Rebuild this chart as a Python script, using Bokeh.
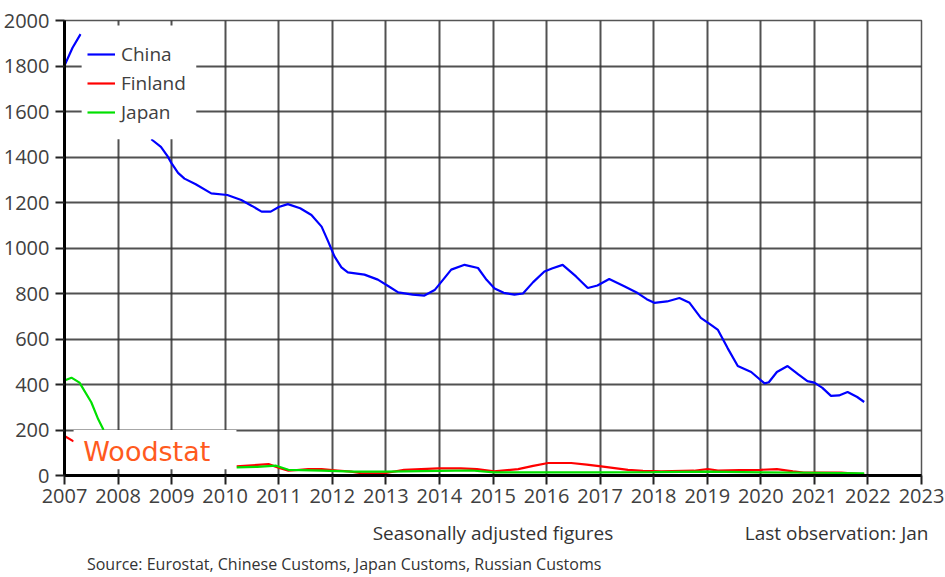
import numpy as np
from bokeh.plotting import figure
from bokeh.models import (BoxAnnotation, Label, Legend, LegendItem, FixedTicker, Range1d,
                          LinearAxis)
from bokeh.embed import file_html
from bokeh.resources import INLINE

nan = float("nan")

# ---- data (decimal years, values) ----
china_x = [2007.00, 2007.15, 2007.30, nan,
           2008.62, 2008.80, 2008.92, 2009.00, 2009.12, 2009.24, 2009.45, 2009.74, 2010.04, 2010.30,
           2010.50, 2010.68, 2010.85, 2011.00, 2011.17, 2011.40, 2011.61, 2011.80, 2011.92,
           2012.04, 2012.17, 2012.29, 2012.60, 2012.85, 2013.05, 2013.23, 2013.50, 2013.72,
           2013.91, 2014.10, 2014.22, 2014.47, 2014.72, 2014.88, 2015.03, 2015.20, 2015.40,
           2015.56, 2015.75, 2015.96, 2016.10, 2016.30, 2016.55, 2016.77, 2016.95, 2017.17,
           2017.45, 2017.70, 2017.87, 2018.01, 2018.25, 2018.48, 2018.67, 2018.88, 2019.05,
           2019.20, 2019.38, 2019.57, 2019.82, 2020.07, 2020.15, 2020.30, 2020.50, 2020.70,
           2020.87, 2021.00, 2021.15, 2021.31, 2021.46, 2021.62, 2021.80, 2021.93]
china_y = [1802, 1880, 1940, nan,
           1478, 1445, 1405, 1372, 1330, 1305, 1280, 1240, 1233, 1211,
           1185, 1160, 1160, 1180, 1193, 1175, 1145, 1094, 1030,
           963, 915, 893, 883, 861, 832, 805, 795, 791,
           815, 870, 905, 926, 912, 860, 822, 803, 795,
           800, 850, 897, 910, 926, 875, 824, 835, 864,
           832, 802, 775, 759, 765, 780, 759, 693, 665,
           640, 560, 481, 455, 405, 410, 455, 481, 445,
           415, 408, 385, 350, 352, 367, 345, 323]

finland_x = [2007.00, 2007.17, nan,
             2010.21, 2010.50, 2010.81, 2011.01, 2011.18, 2011.55, 2011.80, 2012.10, 2012.35,
             2012.54, 2012.97, 2013.34, 2013.98, 2014.40, 2014.70, 2015.02, 2015.47, 2015.75,
             2016.03, 2016.46, 2016.75, 2017.02, 2017.52, 2017.80, 2018.14, 2018.75, 2019.01,
             2019.20, 2019.60, 2020.00, 2020.30, 2020.60, 2020.80, 2021.50, 2021.93]
finland_y = [174, 150, nan,
             40, 45, 50, 33, 21, 28, 28, 22, 17,
             10, 10, 25, 31, 31, 28, 18, 28, 42,
             55, 55, 48, 40, 25, 20, 18, 21, 28,
             22, 24, 25, 28, 18, 13, 13, 5]

japan_x = [2007.00, 2007.13, 2007.28, 2007.50, 2007.63, 2007.73, nan,
           2010.21, 2010.60, 2010.95, 2011.18, 2011.80, 2012.40, 2013.00, 2014.00, 2014.60,
           2015.02, 2016.00, 2017.00, 2018.00, 2019.00, 2020.00, 2021.00, 2021.93]
japan_y = [418, 430, 408, 322, 247, 200, nan,
           36, 38, 43, 25, 21, 17, 17, 20, 22,
           14, 14, 14, 15, 17, 14, 12, 10]

x_ticks = list(range(2007, 2024))
y_ticks = list(range(0, 2001, 200))

series_names = ["China", "Finland", "Japan"]
series_colors = ["#0000FF", "#FF0000", "#00E000"]

note_texts = {492: "Seasonally adjusted figures", 836: "Last observation: Jan"}
source_text = {343: "Source: Eurostat, Chinese Customs, Japan Customs, Russian Customs"}

FONT = "Open Sans"

p = figure(width=945, height=577, output_backend="svg", toolbar_location=None,
           x_range=Range1d(2007, 2023), y_range=Range1d(0, 2000),
           min_border_left=63, min_border_right=24, min_border_top=20, min_border_bottom=101)
p.background_fill_color = "white"
p.border_fill_color = "white"
p.outline_line_color = "#555555"
p.outline_line_width = 1.5

for ax, ticks in ((p.xaxis, x_ticks), (p.yaxis, y_ticks)):
    ax.ticker = FixedTicker(ticks=ticks)
    ax.axis_line_color = "black"
    ax.axis_line_width = 3
    ax.major_tick_line_color = "#222222"
    ax.major_tick_line_width = 2
    ax.major_tick_out = 9
    ax.major_tick_in = 0
    ax.minor_tick_line_color = None
    ax.major_label_text_font = FONT
    ax.major_label_text_font_size = "20px"
    ax.major_label_text_color = "#404040"
p.yaxis.major_label_standoff = 6
p.xaxis.major_label_standoff = 4
p.xaxis.major_label_text_line_height = 1.0

p.xgrid.ticker = FixedTicker(ticks=x_ticks)
p.ygrid.ticker = FixedTicker(ticks=y_ticks)
p.grid.grid_line_color = "#333333"
p.grid.grid_line_width = 2
p.grid.grid_line_alpha = 0.85

r_china = p.line(china_x, china_y, line_color=series_colors[0], line_width=2.2)
r_fin = p.line(finland_x, finland_y, line_color=series_colors[1], line_width=2.2)
r_jap = p.line(japan_x, japan_y, line_color=series_colors[2], line_width=2.2)

# white covers (legend area and logo area)
p.add_layout(BoxAnnotation(left=2007.32, right=2009.46, bottom=1478, top=1978,
                           fill_color="white", fill_alpha=1.0, line_color=None))
p.add_layout(BoxAnnotation(left=2007.17, right=2010.21, bottom=28, top=200,
                           fill_color="white", fill_alpha=1.0, line_color=None))

legend = Legend(items=[LegendItem(label=n, renderers=[r]) for n, r in
                       zip(series_names, [r_china, r_fin, r_jap])],
                location=(23, 350), orientation="vertical",
                background_fill_alpha=0, border_line_color=None,
                padding=0, margin=0, spacing=3, label_height=20, glyph_height=20,
                glyph_width=28, label_standoff=6,
                label_text_font=FONT, label_text_font_size="19px",
                label_text_color="#404040")
p.add_layout(legend)

p.add_layout(Label(x=2007.35, y=107, text="Woodstat", text_font="DejaVu Sans",
                   text_font_size="27px", text_color="#FF5A1E",
                   text_baseline="middle", text_align="left"))

# text rows below the chart, placed with axes on a page-pixel range
p.extra_x_ranges = {"px": Range1d(63, 921)}

def text_axis(labels, size, standoff):
    ax = LinearAxis(x_range_name="px", ticker=FixedTicker(ticks=list(labels.keys())),
                    major_label_overrides=labels)
    ax.axis_line_color = None
    ax.major_tick_line_color = None
    ax.minor_tick_line_color = None
    ax.major_tick_out = 0
    ax.major_tick_in = 0
    ax.major_label_standoff = standoff
    ax.major_label_text_font = FONT
    ax.major_label_text_font_size = size
    ax.major_label_text_line_height = 1.0
    ax.major_label_text_color = "#333333"
    return ax

p.add_layout(text_axis(note_texts, "19px", 14), "below")
p.add_layout(text_axis(source_text, "16px", 4), "below")

open("out.html", "w").write(file_html(p, INLINE))
